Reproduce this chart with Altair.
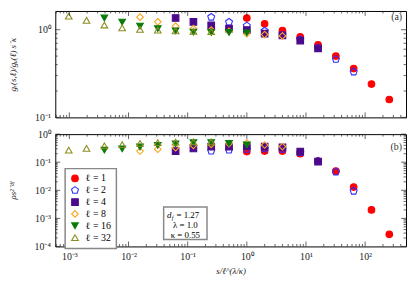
import altair as alt
import pandas as pd

# ---------------- data ----------------
LABELS = ["ℓ = 1", "ℓ = 2", "ℓ = 4", "ℓ = 8", "ℓ = 16", "ℓ = 32"]
COLORS = ["#ff0000", "#2f2fff", "#4b0a8c", "#ffa31a", "#0a7a0a", "#8c8c1e"]
FILLS = ["#ff0000", "transparent", "#4b0a8c", "transparent", "#0a7a0a", "transparent"]
PENTAGON = "M0,-1.1L1.05,-0.34L0.65,0.89L-0.65,0.89L-1.05,-0.34Z"
SHAPES = ["circle", PENTAGON, "square", "diamond", "triangle-down", "triangle-up"]

# s / l^(lambda/kappa) grid (powers of two)
X_GRID = [0.0009765625, 0.001953125, 0.00390625, 0.0078125, 0.015625, 0.03125,
          0.0625, 0.125, 0.25, 0.5, 1, 2, 4, 8, 16, 32, 64, 128, 256]
START = [10, 8, 6, 4, 2, 0]  # first grid index of each series

# panel (a): g_r(s,l)/g_u(l) s^-kappa
A_L1 = [1.36, 1.17, 0.98, 0.83, 0.67, 0.50, 0.36, 0.24, 0.16]
A_L2 = [1.39, 1.22, 1.11, 0.97, 0.87, 0.77, 0.62, 0.46, 0.33]
A_L4 = [1.36, 1.23, 1.12, 1.03, 0.99, 0.90, 0.86, 0.75, 0.61]
A_L8 = [1.39, 1.23, 1.10, 1.03, 0.99, 0.96, 0.90, 0.88, 0.85]
A_L16 = [1.36, 1.22, 1.10, 1.03, 0.97, 0.94, 0.93, 0.93, 0.92]
A_L32 = [1.43, 1.28, 1.13, 1.05, 1.01, 0.99, 0.97, 0.96, 0.95]

# panel (b): rho s^(2-d_f)
B_L1 = [0.24, 0.25, 0.25, 0.20, 0.11, 0.048, 0.013, 0.0020, 0.00027]
B_L2 = [0.25, 0.27, 0.29, 0.30, 0.29, 0.22, 0.11, 0.045, 0.0093]
B_L4 = [0.25, 0.31, 0.36, 0.36, 0.37, 0.36, 0.34, 0.24, 0.105]
B_L8 = [0.25, 0.29, 0.33, 0.40, 0.43, 0.46, 0.48, 0.41, 0.36]
B_L16 = [0.27, 0.30, 0.35, 0.40, 0.45, 0.50, 0.50, 0.47, 0.41]
B_L32 = [0.27, 0.31, 0.38, 0.42, 0.47, 0.50, 0.52, 0.53, 0.53]

X_MAJOR = [1e-3, 1e-2, 1e-1, 1, 10, 100]
YA_MAJOR = [0.1, 1]
YB_MAJOR = [1e-4, 1e-3, 1e-2, 1e-1, 1]

X_DOMAIN = [5.78e-4, 491]
YA_DOMAIN = [0.1, 1.635]
YB_DOMAIN = [1e-4, 1]

W = 356
HA = 108
HB = 114
FONT = "Liberation Serif"


def minors(lo, hi):
    out = []
    for e in range(-5, 4):
        for d in range(2, 10):
            v = d * 10.0 ** e
            if lo < v < hi:
                out.append(v)
    return out


def frame(series, H, ydomain, ymajor, ytitle, show_x, show_legend):
    rows = []
    for lab, start, vals in zip(LABELS, START, series):
        for j, v in enumerate(vals):
            rows.append({"x": X_GRID[start + j], "y": v, "ell": lab})
    df = pd.DataFrame(rows)
    xs = alt.Scale(type="log", domain=X_DOMAIN, nice=False)
    ys = alt.Scale(type="log", domain=ydomain, nice=False)
    lab_expr = "['10⁻⁴','10⁻³','10⁻²','10⁻¹','10⁰','10¹','10²'][round(log(datum.value)/LN10)+4]"
    if show_x:
        xaxis = alt.Axis(values=X_MAJOR, labelExpr=lab_expr, ticks=False, domain=False,
                         grid=False, labelPadding=5, labelFontSize=10,
                         title="s/ℓ^(λ/κ)", titleFontStyle="italic", titleFontSize=9,
                         titleFontWeight="normal", titlePadding=5)
    else:
        xaxis = None
    yaxis = alt.Axis(values=ymajor, labelExpr=lab_expr, ticks=False, domain=False,
                     grid=False, labelPadding=5, labelFontSize=10,
                     minExtent=26, maxExtent=26, title=ytitle, titleFontStyle="italic",
                     titleFontSize=9, titleFontWeight="normal", titlePadding=12)
    if show_legend:
        leg = alt.Legend(title=None, orient="none", legendX=10, legendY=35,
                         strokeColor="#888888", fillColor="white",
                         padding=5, rowPadding=0, symbolSize=45, symbolStrokeWidth=1.1,
                         labelFont=FONT, labelFontSize=10, labelOffset=6)
    else:
        leg = None
    pts = alt.Chart(df).mark_point(size=45, strokeWidth=1.1, opacity=1).encode(
        x=alt.X("x:Q", scale=xs, axis=xaxis),
        y=alt.Y("y:Q", scale=ys, axis=yaxis),
        stroke=alt.Stroke("ell:N", scale=alt.Scale(domain=LABELS, range=COLORS), legend=leg),
        fill=alt.Fill("ell:N", scale=alt.Scale(domain=LABELS, range=FILLS), legend=leg),
        shape=alt.Shape("ell:N", scale=alt.Scale(domain=LABELS, range=SHAPES), legend=leg),
    )
    layers = [pts]
    xmin = minors(*X_DOMAIN)
    ymin = minors(*ydomain)
    for vals, ln in ((X_MAJOR, 5), (xmin, 2.5)):
        base = alt.Chart(pd.DataFrame({"x": vals})).mark_rule(color="#222222", strokeWidth=0.7)
        enc = alt.X("x:Q", scale=xs, axis=xaxis)
        layers.append(base.encode(x=enc, y=alt.value(H), y2=alt.value(H - ln)))
        layers.append(base.encode(x=enc, y=alt.value(0), y2=alt.value(ln)))
    for vals, ln in ((ymajor, 5), (ymin, 2.5)):
        base = alt.Chart(pd.DataFrame({"y": vals})).mark_rule(color="#222222", strokeWidth=0.7)
        enc = alt.Y("y:Q", scale=ys, axis=yaxis)
        layers.append(base.encode(y=enc, x=alt.value(0), x2=alt.value(ln)))
        layers.append(base.encode(y=enc, x=alt.value(W), x2=alt.value(W - ln)))
    return layers


layers_a = frame([A_L1, A_L2, A_L4, A_L8, A_L16, A_L32], HA, YA_DOMAIN, YA_MAJOR,
                 "gᵣ(s,ℓ)/gᵤ(ℓ) s⁻κ", False, False)
tag_a = alt.Chart(pd.DataFrame({"t": ["(a)"]})).mark_text(
    font=FONT, fontSize=10, align="right", baseline="middle", color="#333333"
).encode(text="t:N", x=alt.value(352), y=alt.value(6))
panel_a = alt.layer(*layers_a, tag_a).properties(width=W, height=HA)

layers_b = frame([B_L1, B_L2, B_L4, B_L8, B_L16, B_L32], HB, YB_DOMAIN, YB_MAJOR,
                 "ρs²⁻ᵈᶠ", True, True)
tag_b = alt.Chart(pd.DataFrame({"t": ["(b)"]})).mark_text(
    font=FONT, fontSize=10, align="right", baseline="middle", color="#333333"
).encode(text="t:N", x=alt.value(352), y=alt.value(13))
box = alt.Chart(pd.DataFrame({"t": [0]})).mark_rect(
    fill="white", stroke="#888888", strokeWidth=1.5
).encode(x=alt.value(110), x2=alt.value(154), y=alt.value(74), y2=alt.value(107))
ann = pd.DataFrame({
    "t": ["d", "f", "= 1.27", "λ = 1.0", "κ = 0.55"],
    "px": [118, 118.3, 123, 132, 132],
    "py": [82, 85.5, 82, 92.5, 102.5],
})
ann_main = alt.Chart(ann.iloc[[0]]).mark_text(font=FONT, fontSize=9, fontStyle="italic",
                                             align="right", baseline="middle").encode(
    text="t:N", x=alt.X("px:Q", scale=None), y=alt.Y("py:Q", scale=None))
ann_sub = alt.Chart(ann.iloc[[1]]).mark_text(font=FONT, fontSize=6, fontStyle="italic",
                                            align="left", baseline="middle").encode(
    text="t:N", x=alt.X("px:Q", scale=None), y=alt.Y("py:Q", scale=None))
ann_eq = alt.Chart(ann.iloc[[2]]).mark_text(font=FONT, fontSize=9,
                                           align="left", baseline="middle").encode(
    text="t:N", x=alt.X("px:Q", scale=None), y=alt.Y("py:Q", scale=None))
ann_rest = alt.Chart(ann.iloc[[3, 4]]).mark_text(font=FONT, fontSize=9,
                                                align="center", baseline="middle").encode(
    text="t:N", x=alt.X("px:Q", scale=None), y=alt.Y("py:Q", scale=None))
panel_b = alt.layer(*layers_b, tag_b, box, ann_main, ann_sub, ann_eq, ann_rest).properties(
    width=W, height=HB)

chart = alt.vconcat(panel_a, panel_b, spacing=17, bounds="flush").resolve_legend(
    stroke="independent", fill="independent", shape="independent"
).properties(padding=0).configure_view(
    stroke="black", strokeWidth=1
).configure_axis(
    labelFont=FONT, titleFont=FONT, labelColor="#222222", titleColor="#222222"
).configure_legend(strokeWidth=1.5)

chart.save("out.html", embed_options={"renderer": "svg", "actions": False})
